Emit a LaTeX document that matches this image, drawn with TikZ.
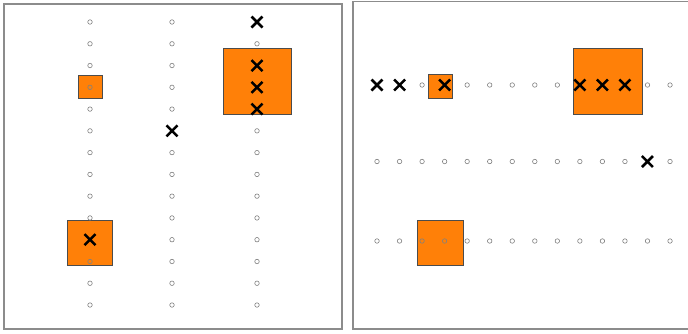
\documentclass[tikz,border=0pt]{standalone}
\usetikzlibrary{shapes.misc}
\definecolor{boxorange}{RGB}{255,128,8}
\definecolor{framegray}{RGB}{140,140,140}
\tikzset{
  panel/.style={draw=framegray, line width=1.8pt},
  hitbox/.style={draw=black!70, line width=0.5pt, fill=boxorange, inner sep=0pt},
  dot/.style={circle, draw=gray, line width=0.6pt, inner sep=0pt, minimum size=4.5pt},
  xmark/.style={cross out, draw=black, line width=2.5pt, inner sep=0pt, minimum size=8.5pt},
}
\begin{document}
\begin{tikzpicture}[x=1pt, y=-1pt]
\useasboundingbox (0,0) rectangle (688,333);
% panels
\draw[panel] (4,4) rectangle (342,329);
\draw[panel] (353,1.5) rectangle (689,329);

% ---- left panel boxes
\node[hitbox, minimum width=24pt, minimum height=23pt] (lb1) at (90,86.5) {};
\node[hitbox, minimum width=45pt, minimum height=45pt] (lb2) at (89.5,242.5) {};
\node[hitbox, minimum width=68pt, minimum height=66pt] (lb3) at (257,81) {};

% ---- left panel markers
\foreach \i in {1,...,14}{
  \pgfmathsetmacro{\yy}{22+21.77*(\i-1)}
  % column A
  \ifnum\i=11
    \node[xmark] (a\i) at (90,\yy) {};
  \else
    \node[dot] (a\i) at (90,\yy) {};
  \fi
  % column B
  \ifnum\i=6
    \node[xmark] (b\i) at (172,\yy) {};
  \else
    \node[dot] (b\i) at (172,\yy) {};
  \fi
  % column C
  \ifnum\i=1 \node[xmark] (c\i) at (257,\yy) {};
  \else\ifnum\i=3 \node[xmark] (c\i) at (257,\yy) {};
  \else\ifnum\i=4 \node[xmark] (c\i) at (257,\yy) {};
  \else\ifnum\i=5 \node[xmark] (c\i) at (257,\yy) {};
  \else \node[dot] (c\i) at (257,\yy) {};
  \fi\fi\fi\fi
}

% ---- right panel boxes
\node[hitbox, minimum width=24pt, minimum height=24pt] (rb1) at (440,86) {};
\node[hitbox, minimum width=69pt, minimum height=66pt] (rb2) at (607.5,81) {};
\node[hitbox, minimum width=46pt, minimum height=45pt] (rb3) at (440,242.5) {};

% ---- right panel markers
\foreach \j in {1,...,14}{
  \pgfmathsetmacro{\xx}{377+22.54*(\j-1)}
  % row 1
  \ifnum\j=1 \node[xmark] (p\j) at (\xx,85) {};
  \else\ifnum\j=2 \node[xmark] (p\j) at (\xx,85) {};
  \else\ifnum\j=4 \node[xmark] (p\j) at (\xx,85) {};
  \else\ifnum\j=10 \node[xmark] (p\j) at (\xx,85) {};
  \else\ifnum\j=11 \node[xmark] (p\j) at (\xx,85) {};
  \else\ifnum\j=12 \node[xmark] (p\j) at (\xx,85) {};
  \else \node[dot] (p\j) at (\xx,85) {};
  \fi\fi\fi\fi\fi\fi
  % row 2
  \ifnum\j=13 \node[xmark] (q\j) at (\xx,161.5) {};
  \else \node[dot] (q\j) at (\xx,161.5) {};
  \fi
  % row 3
  \node[dot] (r\j) at (\xx,241) {};
}
\end{tikzpicture}
\end{document}
